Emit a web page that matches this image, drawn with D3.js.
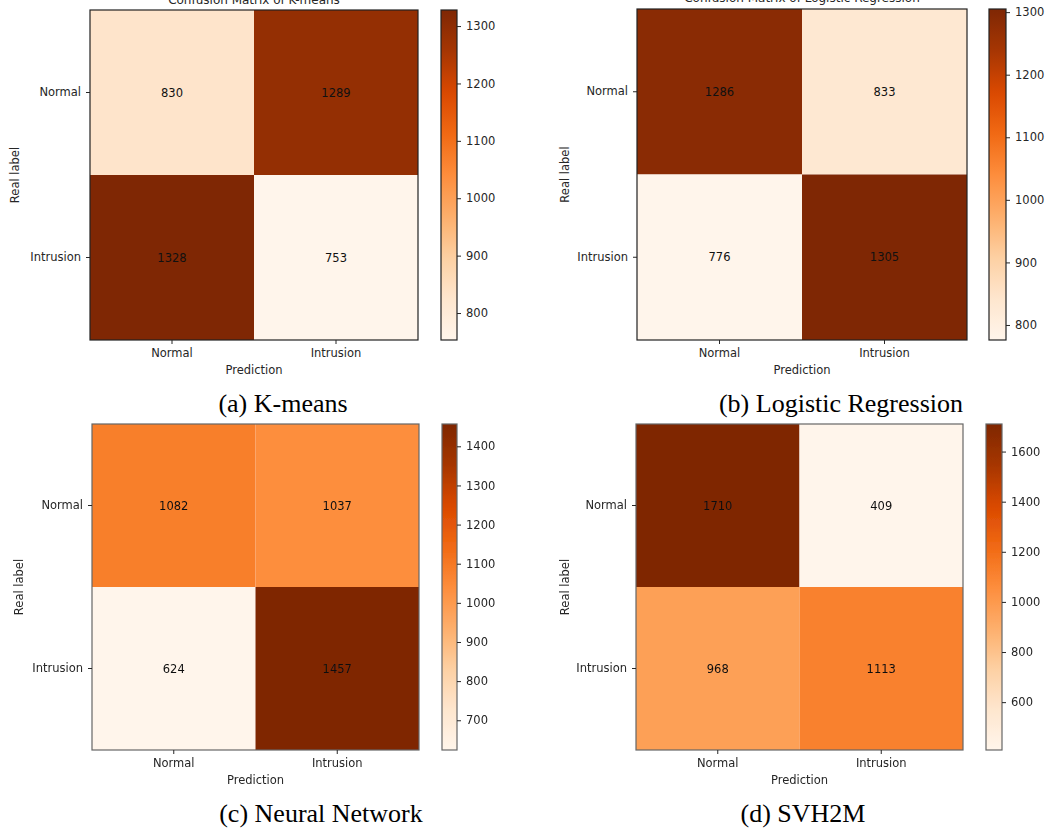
<!DOCTYPE html>
<html>
<head>
<meta charset="utf-8">
<script src="https://cdn.jsdelivr.net/npm/d3@7"></script>
<style>
  html, body { margin: 0; padding: 0; background: #fff; }
  svg { display: block; }
  .tick text { font-family: "DejaVu Sans", sans-serif; font-size: 11.5px; fill: #262626; }
  .tick line { stroke: #262626; }
  .domain { display: none; }
</style>
</head>
<body>
<svg id="chart" width="1046" height="829"></svg>
<script>
// Class labels shared by every matrix
const categories = ["Normal", "Intrusion"];

// Confusion matrices, rows = real label, columns = prediction
const kmeansValues = [[830, 1289], [1328, 753]];
const logregValues = [[1286, 833], [776, 1305]];
const nnValues = [[1082, 1037], [624, 1457]];
const svh2mValues = [[1710, 409], [968, 1113]];

// Colorbar tick labels
const kmeansTicks = [800, 900, 1000, 1100, 1200, 1300];
const logregTicks = [800, 900, 1000, 1100, 1200, 1300];
const nnTicks = [700, 800, 900, 1000, 1100, 1200, 1300, 1400];
const svh2mTicks = [600, 800, 1000, 1200, 1400, 1600];

// Titles and sub-figure captions
const titles = ["Confusion Matrix of K-means", "Confusion Matrix of Logistic Regression", "", ""];
const captions = ["(a) K-means", "(b) Logistic Regression", "(c) Neural Network", "(d) SVH2M"];

// Oranges colour ramp (ColorBrewer, linear segments)
const orangesStops = ["#fff5eb", "#fee6ce", "#fdd0a2", "#fdae6b", "#fd8d3c", "#f16913", "#d94801", "#a63603", "#7f2704"];
const oranges = d3.scaleLinear()
  .domain(orangesStops.map((_, i) => i / (orangesStops.length - 1)))
  .range(orangesStops)
  .interpolate(d3.interpolateRgb)
  .clamp(true);

const svg = d3.select("#chart");
const defs = svg.append("defs");
defs.append("filter").attr("id", "soft")
  .append("feGaussianBlur").attr("stdDeviation", 0.35);

const panels = [
  { values: kmeansValues, ticks: kmeansTicks, x0: 90, x1: 418, y0: 10, y1: 340, cb0: 441, cb1: 457,
    titleY: 3.5, ylabX: 15, capX: 283, capY: 412, frame: "#222", soft: false },
  { values: logregValues, ticks: logregTicks, x0: 637, x1: 967, y0: 9, y1: 340, cb0: 989, cb1: 1006,
    titleY: 1.5, ylabX: 565, capX: 841, capY: 412, frame: "#222", soft: false },
  { values: nnValues, ticks: nnTicks, x0: 92, x1: 419, y0: 424, y1: 750, cb0: 442, cb1: 457,
    titleY: null, ylabX: 19, capX: 321, capY: 822, frame: "#666", soft: true },
  { values: svh2mValues, ticks: svh2mTicks, x0: 636, x1: 963, y0: 424, y1: 750, cb0: 986, cb1: 1002,
    titleY: null, ylabX: 565, capX: 803, capY: 822, frame: "#666", soft: true }
];

panels.forEach((p, idx) => {
  const g = svg.append("g");
  if (p.soft) g.attr("filter", "url(#soft)");

  const flat = p.values.flat();
  const vmin = d3.min(flat), vmax = d3.max(flat);
  const norm = d3.scaleLinear().domain([vmin, vmax]).range([0, 1]);
  const color = v => oranges(norm(v));

  const x = d3.scaleBand().domain(categories).range([p.x0, p.x1]).padding(0);
  const y = d3.scaleBand().domain(categories).range([p.y0, p.y1]).padding(0);

  // cells
  const cells = [];
  p.values.forEach((row, i) => row.forEach((v, j) => cells.push({ r: categories[i], c: categories[j], v })));
  g.selectAll("rect.cell").data(cells).enter().append("rect")
    .attr("class", "cell")
    .attr("x", d => x(d.c)).attr("y", d => y(d.r))
    .attr("width", x.bandwidth()).attr("height", y.bandwidth())
    .attr("fill", d => color(d.v));
  g.selectAll("text.val").data(cells).enter().append("text")
    .attr("class", "val")
    .attr("x", d => x(d.c) + x.bandwidth() / 2)
    .attr("y", d => y(d.r) + y.bandwidth() / 2)
    .attr("dy", "0.36em")
    .attr("text-anchor", "middle")
    .style("font-family", "DejaVu Sans, sans-serif").style("font-size", "11.5px")
    .attr("fill", "#111")
    .text(d => d.v);

  // frame
  g.append("rect").attr("x", p.x0).attr("y", p.y0)
    .attr("width", p.x1 - p.x0).attr("height", p.y1 - p.y0)
    .attr("fill", "none").attr("stroke", p.frame).attr("stroke-width", 1.2);

  // axes
  g.append("g").attr("transform", `translate(0,${p.y1})`)
    .call(d3.axisBottom(x).tickSize(4).tickPadding(5));
  g.append("g").attr("transform", `translate(${p.x0},0)`)
    .call(d3.axisLeft(y).tickSize(4).tickPadding(5));

  const axisLabelStyle = sel => sel
    .style("font-family", "DejaVu Sans, sans-serif").style("font-size", "11.5px")
    .attr("fill", "#262626").attr("text-anchor", "middle");
  g.append("text").call(axisLabelStyle)
    .attr("x", (p.x0 + p.x1) / 2).attr("y", p.y1 + 34)
    .text("Prediction");
  g.append("text").call(axisLabelStyle)
    .attr("transform", `translate(${p.ylabX},${(p.y0 + p.y1) / 2}) rotate(-90)`)
    .attr("dy", "0.35em")
    .text("Real label");

  if (p.titleY !== null && titles[idx]) {
    g.append("text")
      .style("font-family", "DejaVu Sans, sans-serif").style("font-size", "12px")
      .attr("fill", "#262626").attr("text-anchor", "middle")
      .attr("x", (p.x0 + p.x1) / 2).attr("y", p.titleY)
      .text(titles[idx]);
  }

  // colorbar
  const gid = "grad" + idx;
  const grad = defs.append("linearGradient").attr("id", gid)
    .attr("x1", 0).attr("y1", 1).attr("x2", 0).attr("y2", 0);
  d3.range(0, 1.0001, 0.02).forEach(t => {
    grad.append("stop").attr("offset", t).attr("stop-color", oranges(t));
  });
  const cbScale = d3.scaleLinear().domain([vmin, vmax]).range([p.y1, p.y0]);
  g.append("rect").attr("x", p.cb0).attr("y", p.y0)
    .attr("width", p.cb1 - p.cb0).attr("height", p.y1 - p.y0)
    .attr("fill", `url(#${gid})`)
    .attr("stroke", p.frame).attr("stroke-width", 1.2);
  g.append("g").attr("transform", `translate(${p.cb1},0)`)
    .call(d3.axisRight(cbScale).tickValues(p.ticks).tickFormat(d3.format("d")).tickSize(4).tickPadding(5));

  // caption
  svg.append("text")
    .style("font-family", "Liberation Serif, Times New Roman, serif").style("font-size", "26px")
    .attr("fill", "#000").attr("text-anchor", "middle")
    .attr("x", p.capX).attr("y", p.capY)
    .text(captions[idx]);
});
</script>
</body>
</html>
